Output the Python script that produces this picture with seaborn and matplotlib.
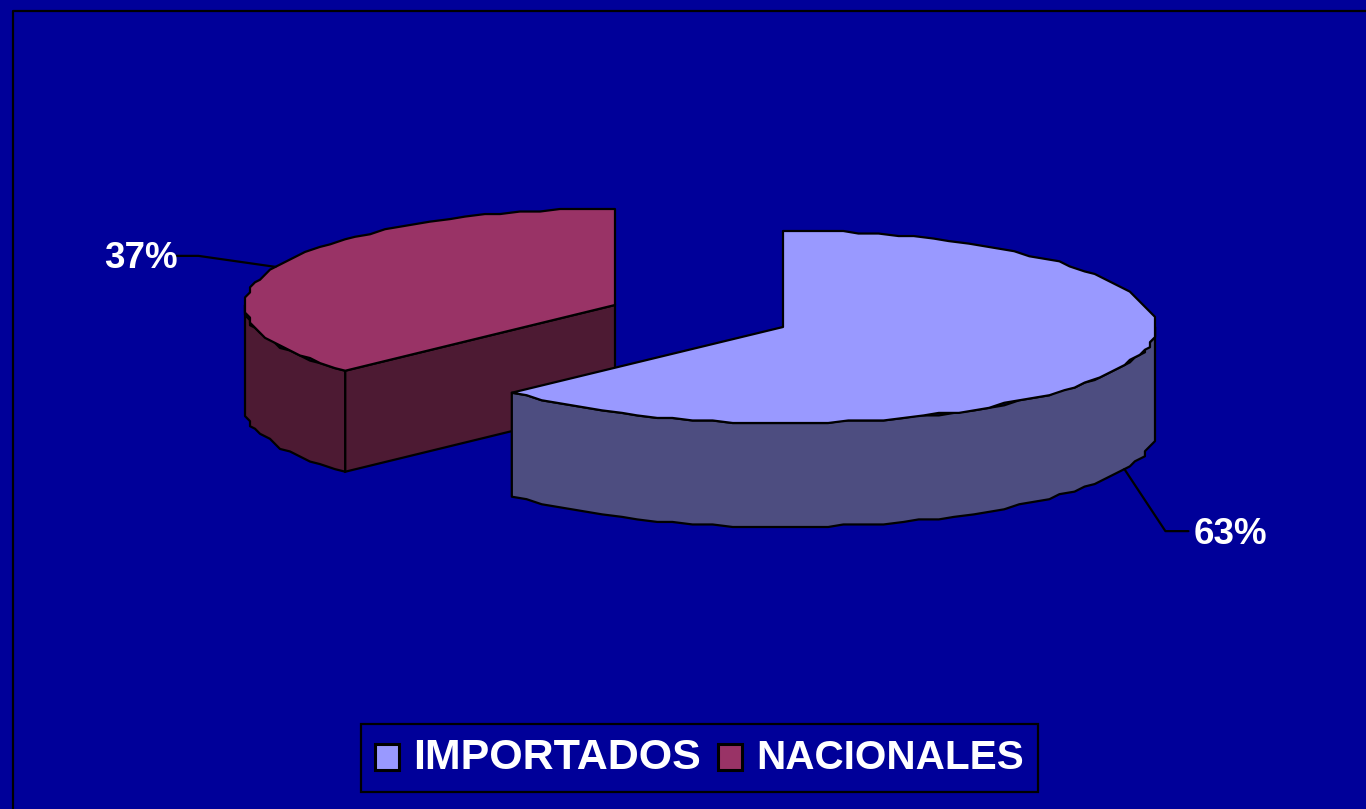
import numpy as np
import pandas as pd
import matplotlib
matplotlib.use('Agg')
import matplotlib.pyplot as plt
from matplotlib.patches import Patch
import seaborn as sns

# data
labels = ['IMPORTADOS', 'NACIONALES']
values = [63, 37]
value_labels = ['63%', '37%']
top_colors = ['#9999FF', '#993366']
side_colors = ['#4D4D80', '#4D1A33']

# layout of the fake 3d pie, in pixels
centers = [(783, 327), (615, 305)]
radii = [(372, 96), (370, 96)]
depths = [104, 101]
bg = '#000099'

sns.set_theme(style='white', rc={'axes.facecolor': bg, 'figure.facecolor': bg})
plt.rcParams['font.family'] = ['Liberation Sans', 'DejaVu Sans']


def rim(a0, a1, center, radius):
    # edge of the ellipse, snapped to a small grid so it wobbles a bit like the original
    th = np.radians(np.linspace(a0, a1, int(abs(a1 - a0) / 3) + 2))
    x = np.round(np.sin(th) * 74) / 74 * radius[0]
    y = np.round(-np.cos(th) * 38) / 38 * radius[1]
    x[0], x[-1] = np.sin(th[0]) * radius[0], np.sin(th[-1]) * radius[0]
    y[0], y[-1] = -np.cos(th[0]) * radius[1], -np.cos(th[-1]) * radius[1]
    pts = pd.DataFrame({'x': center[0] + x, 'y': center[1] + y})
    pts = pts.drop_duplicates().reset_index(drop=True)
    return pts['x'].values, pts['y'].values


def on_ellipse(a, center, radius):
    th = np.radians(a)
    return center[0] + np.sin(th) * radius[0], center[1] - np.cos(th) * radius[1]


fig = plt.figure(figsize=(13.66, 8.09), dpi=100)
ax = fig.add_axes([0, 0, 1, 1])
ax.set_xlim(0, 1366)
ax.set_ylim(809, 0)
ax.set_axis_off()

# chart frame, runs off the right and bottom edge
ax.plot([12.5, 12.5, 1366], [809, 10.5, 10.5], color='black', lw=1.6)

split = 360 * values[0] / sum(values)
spans = [(0, split), (split, 360)]
# visible outer wall of each slice
walls = [(90, split), (split, 270)]

# red slice goes behind the blue one
for i in [1, 0]:
    c, r, d = centers[i], radii[i], depths[i]
    a0, a1 = spans[i]
    w0, w1 = walls[i]
    wx, wy = rim(w0, w1, c, r)
    ax.fill(np.r_[wx, wx[::-1]], np.r_[wy, wy[::-1] + d], fc=side_colors[i], ec='black', lw=1.6, joinstyle='round')
    if i == 1:
        # cut face of the red slice
        ex, ey = on_ellipse(split, c, r)
        ax.fill([c[0], ex, ex, c[0]], [c[1], ey, ey + d, c[1] + d], fc=side_colors[i], ec='black', lw=1.6)
    tx, ty = rim(a0, a1, c, r)
    ax.fill(np.r_[c[0], tx], np.r_[c[1], ty], fc=top_colors[i], ec='black', lw=1.6, joinstyle='round')

# leader lines start on the rim at the middle of each slice
ax_x, ax_y = on_ellipse(split / 2, centers[0], radii[0])
sns.lineplot(x=[ax_x, ax_x + 41, ax_x + 64], y=[ax_y + depths[0], ax_y + depths[0] + 62, ax_y + depths[0] + 62],
             sort=False, estimator=None, color='black', lw=1.6, ax=ax)
ax.text(ax_x + 69, ax_y + depths[0] + 61, value_labels[0], color='white', fontsize=26.5, fontweight='bold',
        ha='left', va='center_baseline')

bx, by = on_ellipse((split + 360) / 2, centers[1], radii[1])
sns.lineplot(x=[bx, bx - 77, bx - 99], y=[by, by - 11, by - 11],
             sort=False, estimator=None, color='black', lw=1.6, ax=ax)
ax.text(bx - 98, by - 12, value_labels[1], color='white', fontsize=26.5, fontweight='bold',
        ha='right', va='center_baseline')

handles = [Patch(fc=top_colors[i], ec='black', lw=2.2, label=labels[i]) for i in range(2)]
leg = ax.legend(handles=handles, ncol=2, loc='center', bbox_to_anchor=(699.5, 758), bbox_transform=ax.transData,
                prop={'size': 30, 'weight': 'bold'}, labelcolor='white', frameon=True, fancybox=False,
                facecolor=bg, edgecolor='black', framealpha=1, handlelength=0.58, handleheight=0.58,
                handletextpad=0.33, columnspacing=0.42, borderpad=0.33, borderaxespad=0)
leg.get_frame().set_linewidth(1.6)
# the two labels do not have quite the same width in the original
for t, size in zip(leg.get_texts(), [31, 29.2]):
    t.set_fontsize(size)
for h in leg.legend_handles:
    h.set_y(h.get_y() - 2.2)

fig.savefig('out.png', dpi=100, facecolor=bg)
